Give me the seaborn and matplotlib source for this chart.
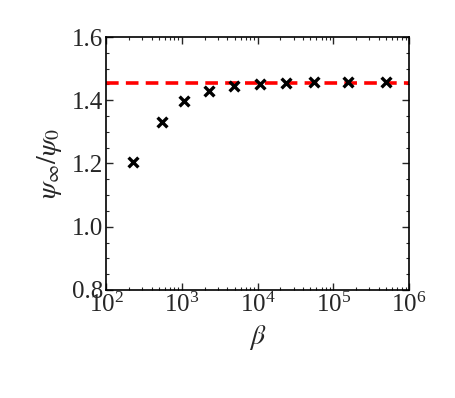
import numpy as np
import pandas as pd
import matplotlib
matplotlib.use("Agg")
import matplotlib.pyplot as plt
import seaborn as sns

# data
beta = [230, 543, 1080, 2310, 4940, 10700, 23500, 55700, 155000, 497000]
psi_ratio = [1.205, 1.332, 1.398, 1.430, 1.444, 1.451, 1.455, 1.457, 1.457, 1.457]
psi_limit = 1.456

x_ticks = [1e2, 1e3, 1e4, 1e5, 1e6]
y_ticks = [0.8, 1.0, 1.2, 1.4, 1.6]

sns.set_style("ticks")
plt.rcParams['font.family'] = ['Liberation Serif', 'DejaVu Serif']
plt.rcParams['mathtext.fontset'] = 'stix'
plt.rcParams['xtick.direction'] = 'in'
plt.rcParams['ytick.direction'] = 'in'
plt.rcParams['xtick.top'] = True
plt.rcParams['ytick.right'] = True

df = pd.DataFrame({'beta': beta, 'psi': psi_ratio})

fig = plt.figure(figsize=(4.56, 3.98), dpi=100)
ax = fig.add_axes([0.2325, 0.2714, 0.6645, 0.6356])

ax.axhline(psi_limit, color='red', ls=(0, (3.5, 2)), lw=2.6, zorder=2)
sns.scatterplot(data=df, x='beta', y='psi', marker='x', color='black',
                s=50, linewidth=2.4, ax=ax, zorder=3)

ax.set_xscale('log')
ax.set_xlim(1e2, 1e6)
ax.set_ylim(0.8, 1.6)
ax.set_xticks(x_ticks)
ax.set_yticks(y_ticks)
ax.set_yticklabels([f"{v:.1f}" for v in y_ticks])
ax.yaxis.set_minor_locator(matplotlib.ticker.MultipleLocator(0.05))

ax.tick_params(which='major', length=5, width=1, labelsize=18, pad=2)
ax.tick_params(which='minor', length=2.5, width=0.8)
for sp in ax.spines.values():
    sp.set_linewidth(1.2)
    sp.set_color('black')

ax.set_xlabel(r'$\beta$', fontsize=20, labelpad=4)
ax.set_ylabel(r'$\psi_\infty/\psi_0$', fontsize=20, labelpad=6)

fig.savefig('out.png', dpi=100)
